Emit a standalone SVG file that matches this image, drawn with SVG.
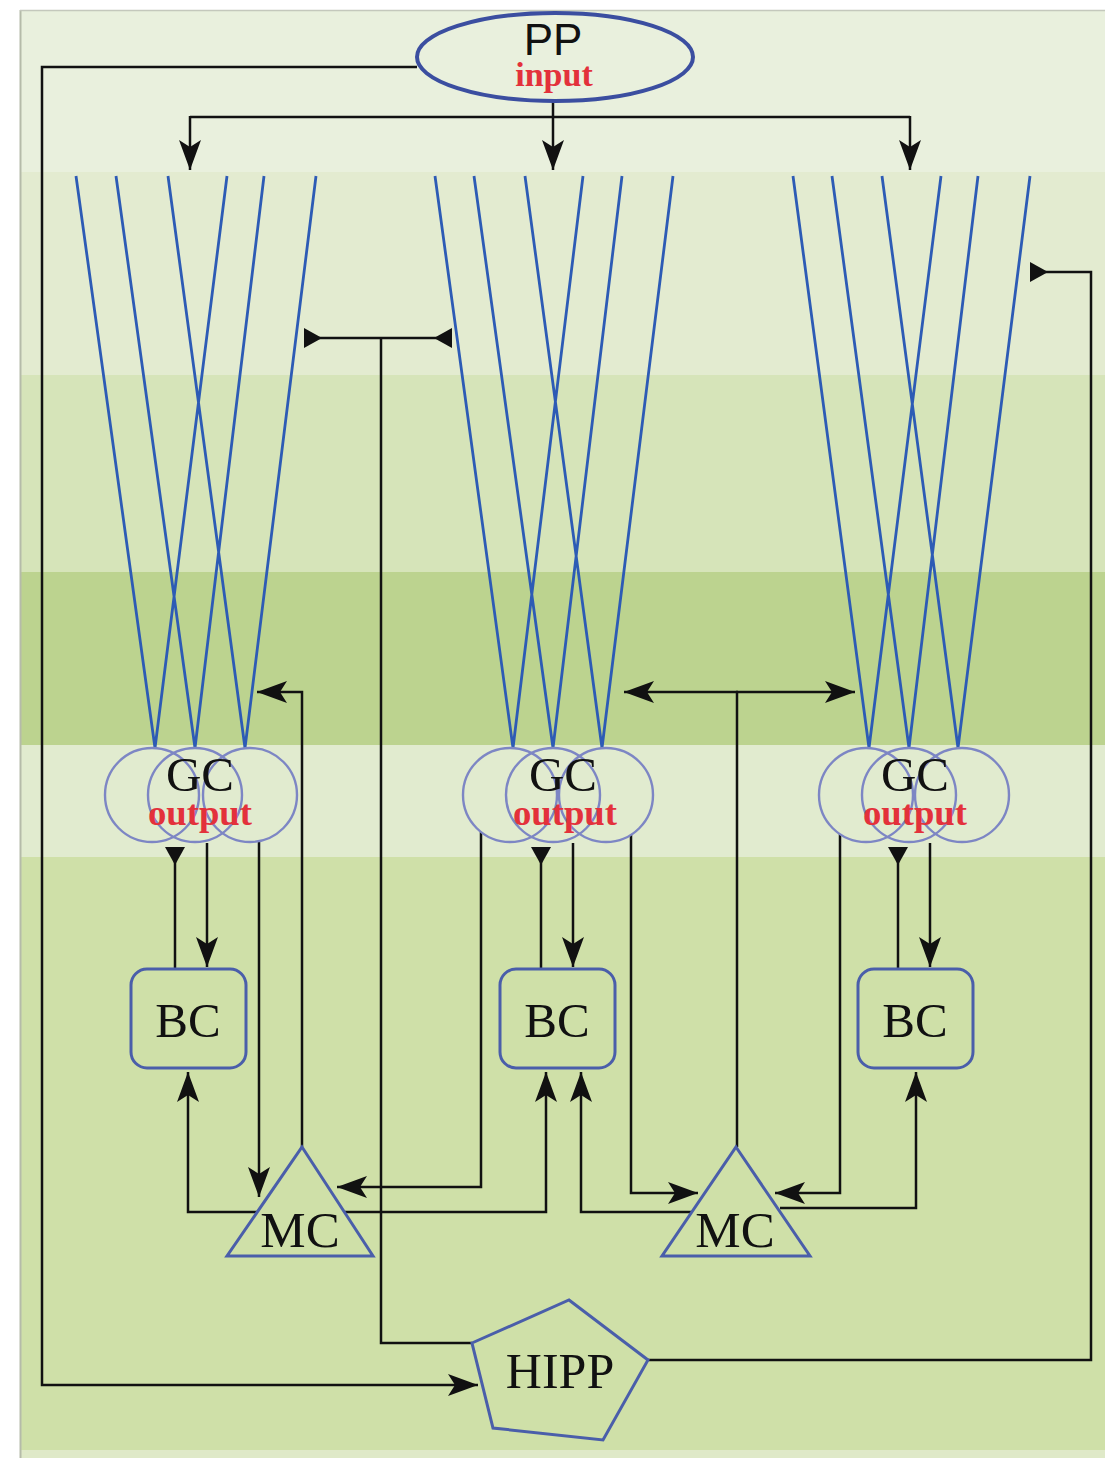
<svg xmlns="http://www.w3.org/2000/svg" width="1105" height="1458" viewBox="0 0 1105 1458">
<defs>
<marker id="arr" markerUnits="userSpaceOnUse" markerWidth="32" markerHeight="26" refX="30" refY="12" orient="auto">
<path d="M0,1 L30,12 L0,23 L7,12 Z" fill="#111"/>
</marker>
<marker id="inh" markerUnits="userSpaceOnUse" markerWidth="20" markerHeight="22" refX="18" refY="10" orient="auto">
<path d="M0,10 L18,0 L18,20 Z" fill="#111"/>
</marker>
<style>
.dend{stroke:#2d5bb5;stroke-width:2.8;fill:none}
.gc{stroke:#7d86c4;stroke-width:2.4;fill:none}
.node{stroke:#4a5eaa;stroke-width:3;fill:none}
.con path{stroke:#111;stroke-width:2.5;fill:none}
.a{marker-end:url(#arr)}
.i{marker-end:url(#inh)}
.lbl{font-family:"Liberation Serif","Times New Roman",serif;fill:#111;text-anchor:middle}
.red{font-family:"Liberation Serif","Times New Roman",serif;font-weight:bold;fill:#e3313b;text-anchor:middle}
</style>
</defs>
<rect x="0" y="0" width="1105" height="1458" fill="#ffffff"/>
<g id="background">
<rect x="20" y="10" width="1090" height="162" fill="#e9f0dd"/>
<rect x="20" y="172" width="1090" height="203" fill="#e3ebd0"/>
<rect x="20" y="375" width="1090" height="197" fill="#d6e4b9"/>
<rect x="20" y="572" width="1090" height="173" fill="#bcd38f"/>
<rect x="20" y="745" width="1090" height="112" fill="#e1ebcf"/>
<rect x="20" y="857" width="1090" height="593" fill="#cfe0a8"/>
<rect x="20" y="1450" width="1090" height="8" fill="#dfe9c8"/>
<line x1="20.5" y1="10" x2="20.5" y2="1458" stroke="#b5bba9" stroke-width="2"/>
<line x1="20" y1="10.5" x2="1105" y2="10.5" stroke="#c4c8bc" stroke-width="1.5"/>
</g>
<g id="dendrites">
<path class="dend" d="M76,176 L155,748 L227,176 M116,176 L195,748 L264,176 M168,176 L245,748 L316,176"/>
<path class="dend" d="M435,176 L513,748 L583,176 M474,176 L553,748 L622,176 M525,176 L602,748 L673,176"/>
<path class="dend" d="M793,176 L869,748 L941,176 M832,176 L909,748 L978,176 M882,176 L958,748 L1030,176"/>
</g>
<g id="connectors" class="con">
<path d="M417,67 H42 V1385 H478" class="a"/>
<path d="M553,101 V170" class="a"/>
<path d="M190,117 H910"/>
<path d="M190,116 V170" class="a"/>
<path d="M910,116 V170" class="a"/>
<path d="M648,1360 H1091 V272 H1030" class="i"/>
<path d="M472,1343 H381 V338"/>
<path d="M381,338 H304" class="i"/>
<path d="M381,338 H452" class="i"/>
<path d="M175,968 V847" class="i"/>
<path d="M207,843 V967" class="a"/>
<path d="M259,841 V1197" class="a"/>
<path d="M302,1147 V692 H257" class="a"/>
<path d="M257,1212 H188 V1072" class="a"/>
<path d="M345,1212 H546 V1072" class="a"/>
<path d="M481,832 V1187 H337" class="a"/>
<path d="M541,968 V847" class="i"/>
<path d="M573,843 V967" class="a"/>
<path d="M631,835 V1193 H698" class="a"/>
<path d="M692,1212 H581 V1072" class="a"/>
<path d="M780,1208 H916 V1072" class="a"/>
<path d="M737,1147 V692"/>
<path d="M738,692 H624" class="a"/>
<path d="M736,692 H855" class="a"/>
<path d="M840,834 V1193 H775" class="a"/>
<path d="M898,968 V847" class="i"/>
<path d="M930,843 V967" class="a"/>
</g>
<g id="PP">
<ellipse cx="555" cy="57" rx="138" ry="44" fill="none" stroke="#3b4ea0" stroke-width="4"/>
<text x="553" y="55" font-family="Liberation Sans, Arial, sans-serif" font-size="44" fill="#111" text-anchor="middle">PP</text>
<text class="red" x="554" y="86" font-size="34">input</text>
</g>
<g id="GC1">
<circle class="gc" cx="152" cy="795" r="47"/>
<circle class="gc" cx="195" cy="795" r="47"/>
<circle class="gc" cx="250" cy="795" r="47"/>
<text class="lbl" x="200" y="791" font-size="49">GC</text>
<text class="red" x="200" y="825" font-size="35" textLength="104" lengthAdjust="spacingAndGlyphs">output</text>
</g>
<g id="GC2">
<circle class="gc" cx="510" cy="795" r="47"/>
<circle class="gc" cx="553" cy="795" r="47"/>
<circle class="gc" cx="606" cy="795" r="47"/>
<text class="lbl" x="563" y="791" font-size="49">GC</text>
<text class="red" x="565" y="825" font-size="35" textLength="104" lengthAdjust="spacingAndGlyphs">output</text>
</g>
<g id="GC3">
<circle class="gc" cx="866" cy="795" r="47"/>
<circle class="gc" cx="909" cy="795" r="47"/>
<circle class="gc" cx="962" cy="795" r="47"/>
<text class="lbl" x="915" y="791" font-size="49">GC</text>
<text class="red" x="915" y="825" font-size="35" textLength="104" lengthAdjust="spacingAndGlyphs">output</text>
</g>
<g id="BC1">
<rect class="node" x="131" y="969" width="115" height="99" rx="16"/>
<text class="lbl" x="188" y="1037" font-size="49">BC</text>
</g>
<g id="BC2">
<rect class="node" x="500" y="969" width="115" height="99" rx="16"/>
<text class="lbl" x="557" y="1037" font-size="49">BC</text>
</g>
<g id="BC3">
<rect class="node" x="858" y="969" width="115" height="99" rx="16"/>
<text class="lbl" x="915" y="1037" font-size="49">BC</text>
</g>
<g id="MC1">
<polygon class="node" points="302,1147 373,1256 227,1256"/>
<text class="lbl" x="300" y="1247" font-size="51">MC</text>
</g>
<g id="MC2">
<polygon class="node" points="736,1147 810,1256 662,1256"/>
<text class="lbl" x="735" y="1247" font-size="51">MC</text>
</g>
<g id="HIPP">
<polygon class="node" points="569,1300 648,1360 603,1440 493,1428 472,1343"/>
<text class="lbl" x="560" y="1388" font-size="50">HIPP</text>
</g>
</svg>
